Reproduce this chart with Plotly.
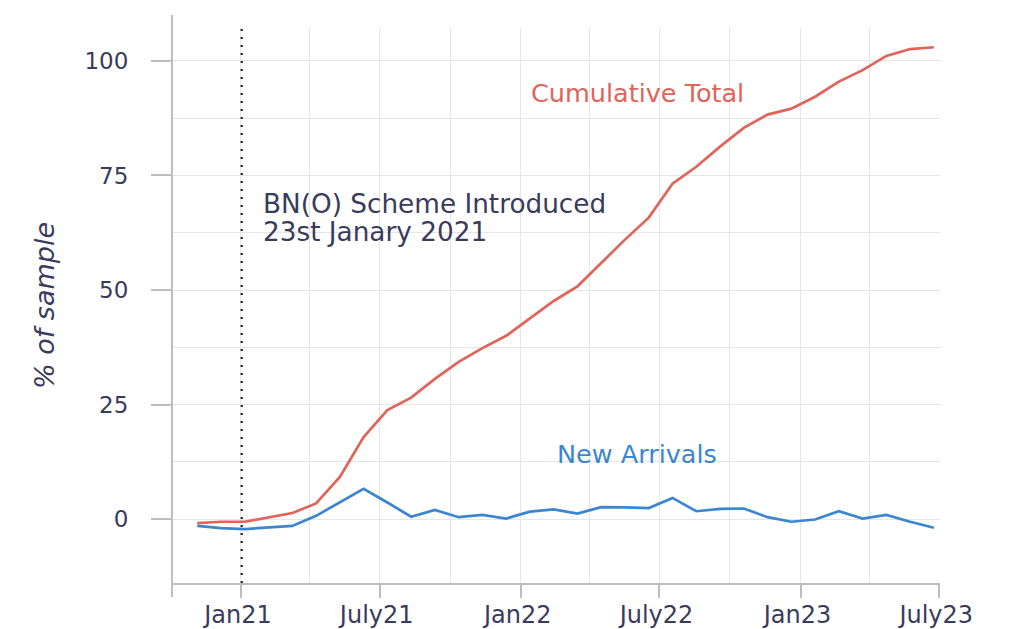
import plotly.graph_objects as go

# ---- data ----
dates = [
    "2020-11-05", "2020-12-06", "2021-01-06", "2021-02-06", "2021-03-09", "2021-04-09",
    "2021-05-10", "2021-06-10", "2021-07-11", "2021-08-11", "2021-09-11", "2021-10-12",
    "2021-11-12", "2021-12-13", "2022-01-13", "2022-02-13", "2022-03-16", "2022-04-16",
    "2022-05-17", "2022-06-17", "2022-07-18", "2022-08-18", "2022-09-18", "2022-10-19",
    "2022-11-19", "2022-12-20", "2023-01-20", "2023-02-20", "2023-03-23", "2023-04-23",
    "2023-05-24", "2023-06-24",
]
cumulative_total = [
    -0.9, -0.6, -0.6, 0.4, 1.3, 3.4, 9.2, 17.9, 23.8, 26.5, 30.6, 34.3,
    37.3, 40.0, 43.8, 47.6, 50.8, 56.0, 61.0, 65.8, 73.2, 76.9, 81.3, 85.4,
    88.3, 89.6, 92.2, 95.5, 98.0, 101.1, 102.6, 103.0,
]
new_arrivals = [
    -1.5, -2.0, -2.2, -1.85, -1.5, 0.7, 3.7, 6.6, 3.6, 0.5, 2.0, 0.4,
    0.9, 0.1, 1.6, 2.1, 1.2, 2.6, 2.55, 2.4, 4.6, 1.7, 2.2, 2.3,
    0.4, -0.6, -0.1, 1.7, 0.1, 0.9, -0.6, -1.9,
]
x_tick_vals = ["2021-01-01", "2021-07-01", "2022-01-01", "2022-07-01", "2023-01-01", "2023-07-01"]
x_tick_text = ["Jan21", "July21", "Jan22", "July22", "Jan23", "July23"]
x_minor_vals = ["2021-04-01", "2021-10-01", "2022-04-01", "2022-10-01", "2023-04-01"]
y_tick_vals = [0, 25, 50, 75, 100]
y_minor_vals = [12.5, 37.5, 62.5, 87.5]
scheme_line_date = "2021-01-02"

# ---- style ----
FONT = "DejaVu Sans"
TXT = "#3a3b5c"
RED = "#e0645a"
BLUE = "#3b86cf"
AXIS = "#bdbdbd"
GRID = "#e6e6e6"

fig = go.Figure()
fig.add_trace(go.Scatter(x=dates, y=cumulative_total, mode="lines",
                         line=dict(color=RED, width=2.7), showlegend=False,
                         name="Cumulative Total"))
fig.add_trace(go.Scatter(x=dates, y=new_arrivals, mode="lines",
                         line=dict(color=BLUE, width=2.7), showlegend=False,
                         name="New Arrivals"))

fig.add_vline(x=scheme_line_date, line=dict(color="#333333", width=2.4, dash="2px,6px"),
              layer="above")

# extended y axis line (goes a little beyond plot area like the reference)
fig.add_shape(type="line", xref="paper", yref="paper", x0=0, x1=0, y0=-0.0252, y1=1.0234,
              line=dict(color=AXIS, width=2), layer="above")

fig.update_layout(
    width=1013, height=621,
    margin=dict(l=164, r=81, t=20, b=46),
    plot_bgcolor="white", paper_bgcolor="white",
    font=dict(family=FONT, color=TXT),
    xaxis=dict(
        type="date", range=["2020-10-03", "2023-07-02"], automargin=False,
        tickmode="array", tickvals=x_tick_vals, ticktext=x_tick_text,
        ticks="outside", ticklen=13, tickwidth=2, tickcolor=AXIS,
        ticklabelstandoff=-4, ticklabelshift=-3,
        tickfont=dict(size=24, color=TXT, family=FONT),
        showline=True, linecolor=AXIS, linewidth=2,
        showgrid=True, gridcolor=GRID, gridwidth=1, zeroline=False,
        minor=dict(tickmode="array", tickvals=x_minor_vals, showgrid=True,
                   gridcolor=GRID, gridwidth=1, ticks=""),
    ),
    yaxis=dict(
        range=[-13.97, 107.2], automargin=False,
        tickmode="array", tickvals=y_tick_vals,
        ticks="outside", ticklen=20, tickwidth=2, tickcolor=AXIS,
        ticklabelstandoff=18,
        tickfont=dict(size=23, color=TXT, family=FONT),
        showline=False, showgrid=True, gridcolor=GRID, gridwidth=1, zeroline=False,
        minor=dict(tickmode="array", tickvals=y_minor_vals, showgrid=True,
                   gridcolor=GRID, gridwidth=1, ticks=""),
        title=dict(text="<i>% of sample</i>", font=dict(size=27, color=TXT, family=FONT),
                   standoff=22),
    ),
    annotations=[
        dict(text="Cumulative Total", xref="paper", yref="paper", x=0.6055, y=0.8829,
             xanchor="center", yanchor="middle", showarrow=False,
             font=dict(size=25.5, color=RED, family=FONT)),
        dict(text="New Arrivals", xref="paper", yref="paper", x=0.6055, y=0.2324,
             xanchor="center", yanchor="middle", showarrow=False,
             font=dict(size=25.5, color=BLUE, family=FONT)),
        dict(text="BN(O) Scheme Introduced", xref="paper", yref="paper", x=0.1155, y=0.683,
             xanchor="left", yanchor="middle", showarrow=False, align="left",
             font=dict(size=26.3, color=TXT, family=FONT)),
        dict(text="23st Janary 2021", xref="paper", yref="paper", x=0.1155, y=0.632,
             xanchor="left", yanchor="middle", showarrow=False, align="left",
             font=dict(size=26.3, color=TXT, family=FONT)),
    ],
)

fig.write_html("out.html")
